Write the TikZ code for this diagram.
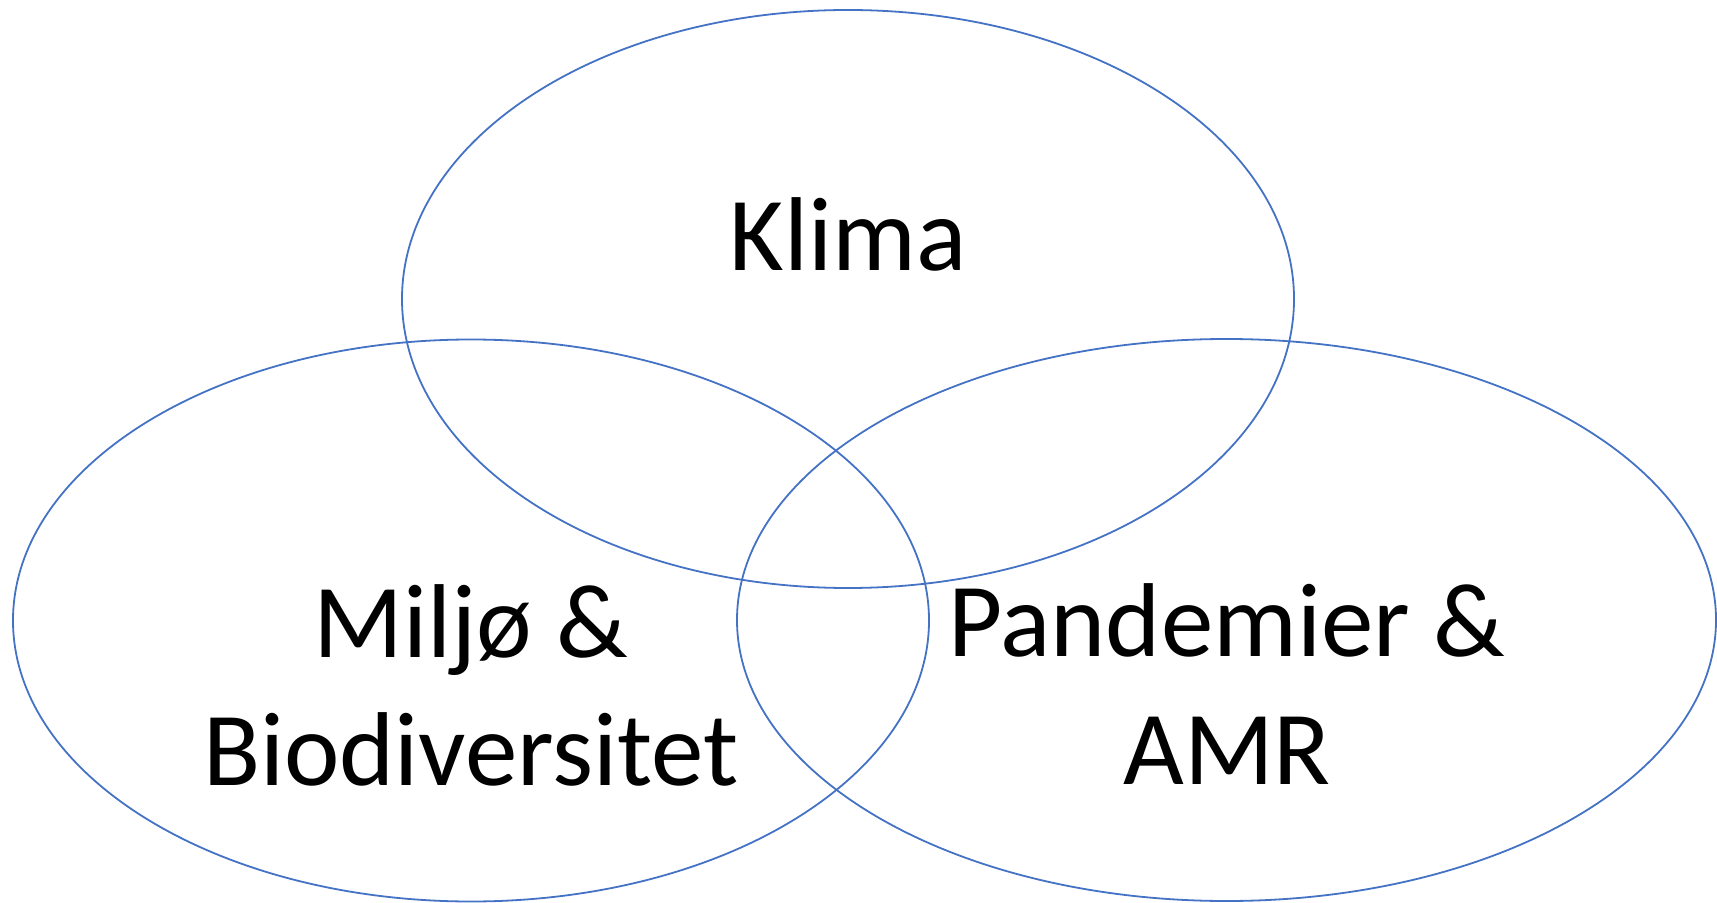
\documentclass[tikz,border=0pt]{standalone}
\usepackage{fontspec}
\setmainfont{Carlito}
\usepackage{tikz}
\definecolor{vennblue}{RGB}{68,114,196}

\begin{document}
\begin{tikzpicture}[x=0.5pt,y=-0.5pt,
    ring/.style={draw=vennblue, line width=0.9pt},
    title/.style={align=center, anchor=base, inner sep=0pt,
        font=\fontsize{52.5}{64}\selectfont}
]
\useasboundingbox (0,0) rectangle (1717,903);
% the three circles
\draw[ring] (848,299) ellipse [x radius=446, y radius=289];
\draw[ring] (471,620.5) ellipse [x radius=458, y radius=281];
\draw[ring] (1226.5,620) ellipse [x radius=489.5, y radius=281];
% labels (base = last line)
\node[title] (klima) at (848,270.7) {Klima};
\node[title] (miljo) at (471,785) {Miljø \&\\Biodiversitet};
\node[title] (pandemi) at (1227,784) {Pandemier \&\\AMR};
\end{tikzpicture}
\end{document}
